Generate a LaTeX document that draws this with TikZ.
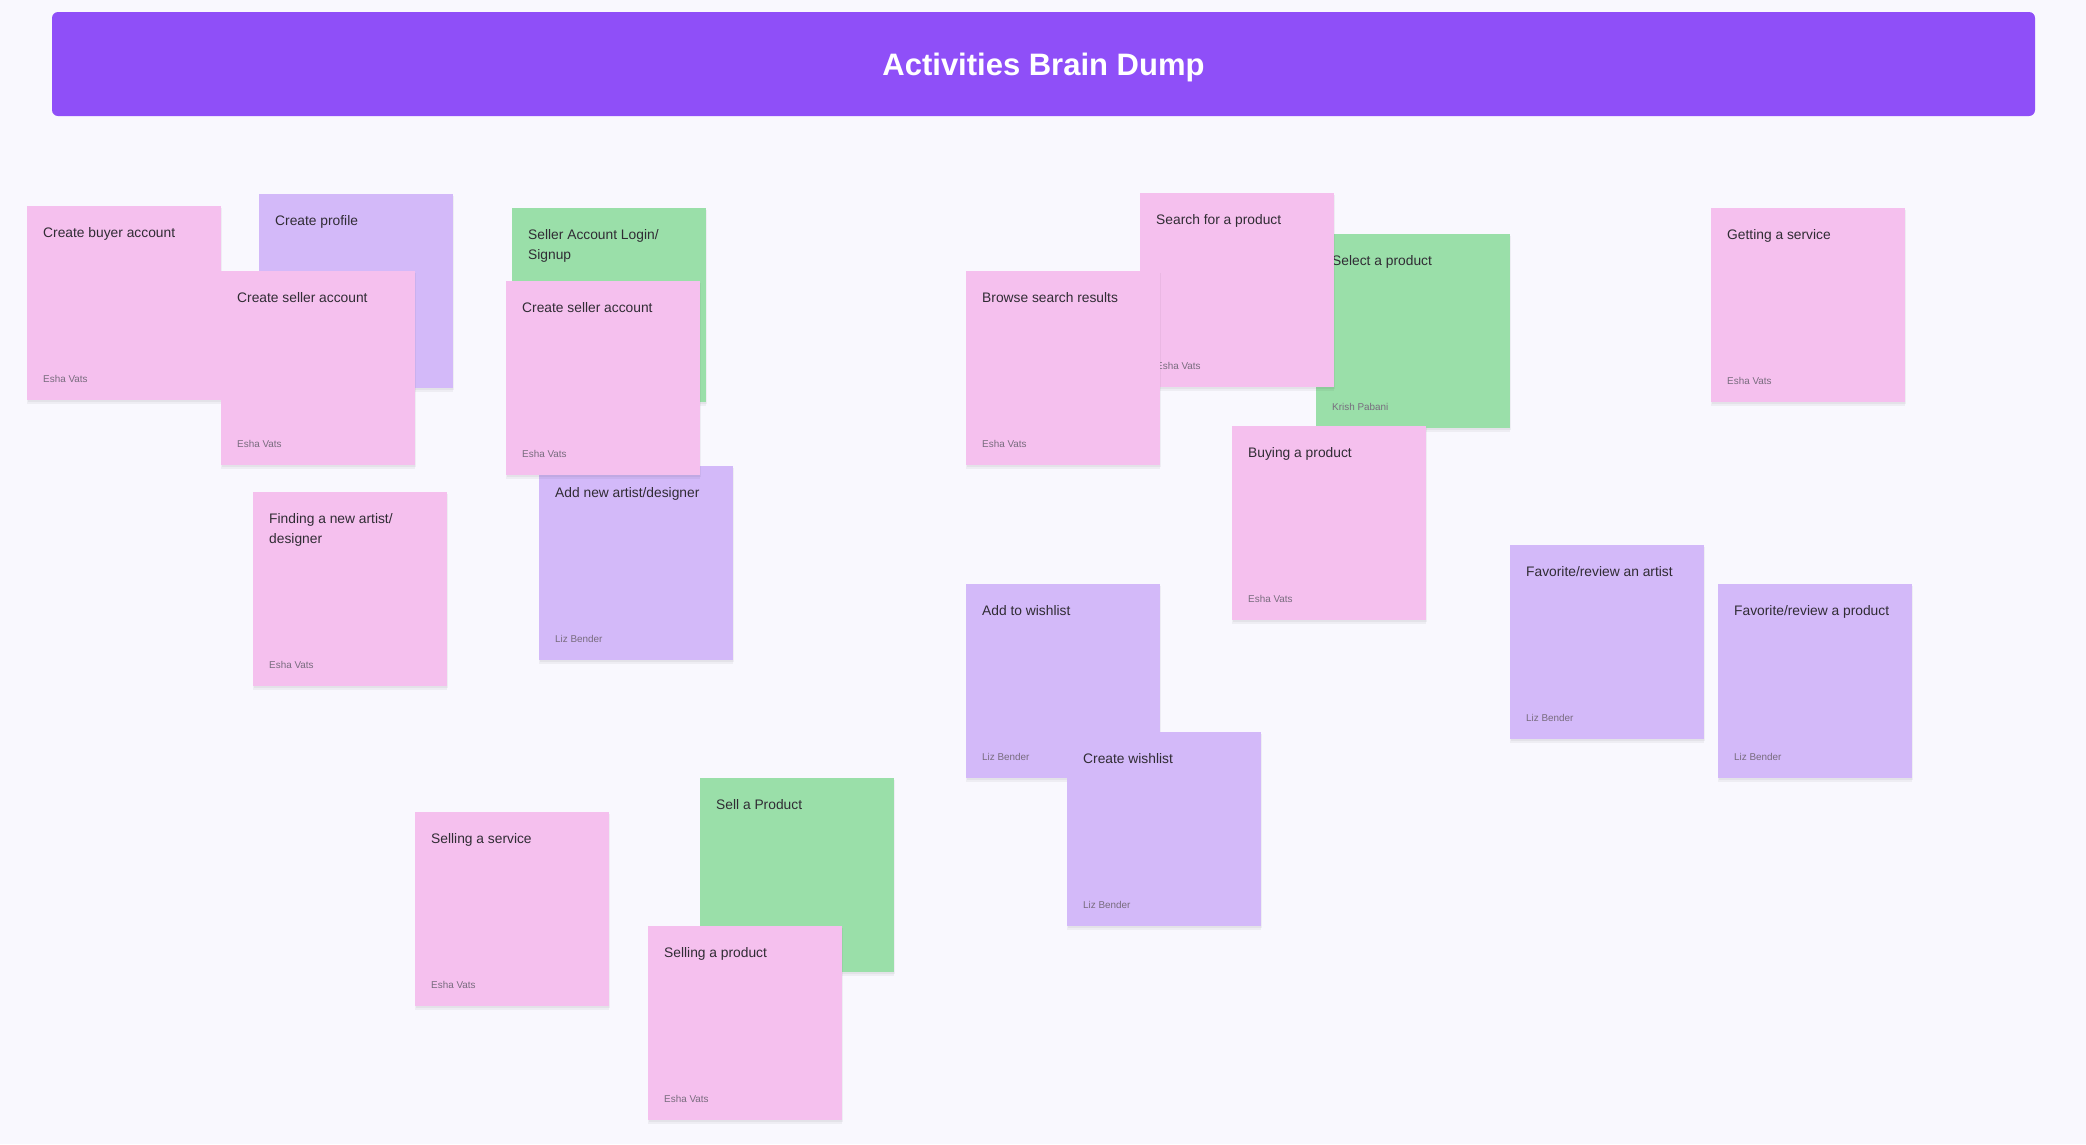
\documentclass[tikz,border=0pt]{standalone}
\usepackage{fontspec}
\setmainfont{Liberation Sans}
\definecolor{bgc}{RGB}{249,248,254}
\definecolor{headc}{RGB}{143,79,248}
\definecolor{pinkc}{RGB}{245,192,238}
\definecolor{purplec}{RGB}{211,185,249}
\definecolor{greenc}{RGB}{154,223,169}
\definecolor{titlec}{RGB}{48,44,52}
\definecolor{authc}{RGB}{120,108,126}
\tikzset{
  notebox/.style={draw=none, inner sep=0pt, minimum width=194pt, minimum height=194pt, anchor=north west},
  titletext/.style={inner sep=0pt, anchor=north west, align=left, text=titlec, font=\fontsize{13.8}{20}\selectfont},
  authortext/.style={inner sep=0pt, anchor=base west, text=authc, font=\fontsize{9.9}{12}\selectfont},
  headerbox/.style={fill=headc, rounded corners=6pt, minimum width=1983pt, minimum height=104pt, inner sep=0pt},
  headtitle/.style={inner sep=0pt, anchor=base, text=white, font=\fontsize{31}{36}\selectfont\bfseries},
  shadowc/.style={fill=black, opacity=0.045}
}
\newcommand\sticky[6]{%
  \fill[shadowc] (#2+1,#3+2) rectangle ++(194,194);
  \fill[shadowc] (#2,#3+4) rectangle ++(194,194);
  \node[notebox, fill=#4] (#1) at (#2,#3) {};
  \node[titletext] (#1-t) at ([xshift=16pt,yshift=-21pt]#1.north west) {#5};
  \if\relax\detokenize{#6}\relax\else
  \node[authortext] (#1-a) at ([xshift=16pt,yshift=18pt]#1.south west) {#6};
  \fi
}
\begin{document}
\begin{tikzpicture}[x=1pt,y=-1pt]
\useasboundingbox (0,0) rectangle (2086,1144);
\fill[bgc] (0,0) rectangle (2086,1144);
\node[headerbox] (header) at (1043.5,64) {};
\node[headtitle] (htitle) at (1043.5,75.5) {Activities Brain Dump};
\sticky{n1}{27}{206}{pinkc}{Create buyer account}{Esha Vats}
\sticky{n2}{259}{194}{purplec}{Create profile}{}
\sticky{n3}{221}{271}{pinkc}{Create seller account}{Esha Vats}
\sticky{n4}{512}{208}{greenc}{Seller Account Login/\\Signup}{}
\sticky{n6}{539}{466}{purplec}{Add new artist/designer}{Liz Bender}
\sticky{n5}{506}{281}{pinkc}{Create seller account}{Esha Vats}
\sticky{n7}{253}{492}{pinkc}{Finding a new artist/\\designer}{Esha Vats}
\sticky{n8}{415}{812}{pinkc}{Selling a service}{Esha Vats}
\sticky{n9}{700}{778}{greenc}{Sell a Product}{}
\sticky{n10}{648}{926}{pinkc}{Selling a product}{Esha Vats}
\sticky{n13}{1316}{234}{greenc}{Select a product}{Krish Pabani}
\sticky{n12}{1140}{193}{pinkc}{Search for a product}{Esha Vats}
\sticky{n11}{966}{271}{pinkc}{Browse search results}{Esha Vats}
\sticky{n14}{1232}{426}{pinkc}{Buying a product}{Esha Vats}
\sticky{n15}{1711}{208}{pinkc}{Getting a service}{Esha Vats}
\sticky{n16}{966}{584}{purplec}{Add to wishlist}{Liz Bender}
\sticky{n17}{1067}{732}{purplec}{Create wishlist}{Liz Bender}
\sticky{n18}{1510}{545}{purplec}{Favorite/review an artist}{Liz Bender}
\sticky{n19}{1718}{584}{purplec}{Favorite/review a product}{Liz Bender}
\end{tikzpicture}
\end{document}
